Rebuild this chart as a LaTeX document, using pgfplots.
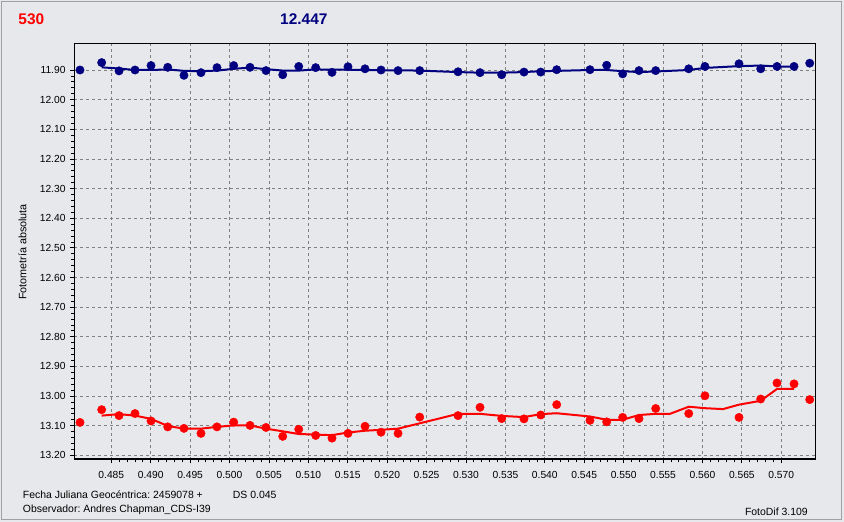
\documentclass[border=0pt]{standalone}
\usepackage{fontspec}
\setmainfont{Liberation Sans}
\usepackage{pgfplots}
\pgfplotsset{compat=1.18}
\frenchspacing

\definecolor{bgc}{RGB}{231,232,235}
\definecolor{navyc}{RGB}{0,0,128}
\definecolor{gridc}{RGB}{128,128,128}
\definecolor{framec}{RGB}{160,160,160}

% comparison star (navy) and variable (red), Julian date offset vs magnitude
\pgfplotstableread{
x        y
0.48103  11.900
0.48378  11.875
0.48598  11.903
0.48801  11.900
0.49004  11.885
0.49216  11.891
0.49422  11.918
0.49638  11.909
0.49841  11.892
0.50053  11.885
0.50260  11.891
0.50463  11.902
0.50675  11.916
0.50878  11.888
0.51093  11.892
0.51300  11.908
0.51503  11.889
0.51719  11.896
0.51922  11.900
0.52138  11.902
0.52413  11.902
0.52899  11.906
0.53178  11.909
0.53453  11.916
0.53736  11.907
0.53948  11.907
0.54151  11.899
0.54573  11.899
0.54785  11.884
0.54988  11.913
0.55195  11.902
0.55407  11.902
0.55826  11.896
0.56032  11.888
0.56464  11.879
0.56739  11.896
0.56946  11.888
0.57162  11.888
0.57361  11.877
}\comppts

\pgfplotstableread{
x        y
0.48378  11.891
0.48598  11.895
0.48801  11.900
0.49004  11.900
0.49216  11.898
0.49422  11.903
0.49638  11.904
0.49841  11.902
0.50053  11.896
0.50260  11.892
0.50463  11.897
0.50675  11.902
0.50878  11.902
0.51093  11.898
0.51300  11.899
0.51503  11.899
0.51719  11.900
0.51922  11.901
0.52138  11.901
0.52413  11.902
0.52899  11.907
0.53178  11.909
0.53453  11.909
0.53736  11.907
0.53948  11.904
0.54151  11.903
0.54573  11.900
0.54785  11.900
0.54988  11.904
0.55195  11.907
0.55407  11.905
0.55826  11.900
0.56032  11.893
0.56464  11.887
0.56739  11.885
0.56946  11.888
0.57162  11.889
}\compline

\pgfplotstableread{
x        y
0.48103  13.089
0.48378  13.046
0.48598  13.066
0.48801  13.059
0.49004  13.084
0.49216  13.104
0.49422  13.109
0.49638  13.126
0.49841  13.104
0.50053  13.088
0.50260  13.099
0.50463  13.106
0.50675  13.136
0.50878  13.112
0.51093  13.133
0.51300  13.142
0.51503  13.126
0.51719  13.102
0.51922  13.122
0.52138  13.126
0.52413  13.071
0.52899  13.066
0.53178  13.038
0.53453  13.076
0.53736  13.077
0.53948  13.064
0.54151  13.029
0.54573  13.082
0.54785  13.087
0.54988  13.072
0.55195  13.076
0.55407  13.042
0.55826  13.059
0.56032  12.999
0.56464  13.072
0.56739  13.010
0.56946  12.956
0.57162  12.959
0.57361  13.012
}\varpts

\pgfplotstableread{
x        y
0.48378  13.066
0.48598  13.061
0.48801  13.066
0.49004  13.077
0.49216  13.101
0.49422  13.110
0.49638  13.110
0.49841  13.104
0.50053  13.099
0.50260  13.099
0.50463  13.110
0.50675  13.119
0.50878  13.128
0.51093  13.130
0.51300  13.132
0.51503  13.123
0.51719  13.117
0.51922  13.114
0.52138  13.110
0.52413  13.092
0.52899  13.060
0.53178  13.060
0.53453  13.067
0.53736  13.071
0.53948  13.061
0.54151  13.058
0.54573  13.069
0.54785  13.080
0.54988  13.080
0.55195  13.064
0.55407  13.060
0.55588  13.060
0.55826  13.036
0.56032  13.041
0.56261  13.044
0.56464  13.029
0.56739  13.016
0.56946  12.976
0.57162  12.976
}\varline

\begin{document}
\begin{tikzpicture}[x=1bp,y=1bp]
\useasboundingbox (0,0) rectangle (844,522);
\fill[bgc] (0,0) rectangle (844,522);
\draw[framec, line width=1.5bp] (1.5,2.5) rectangle (841.5,520.5);

\begin{axis}[
    at={(74bp,62.7bp)}, anchor=south west,
    scale only axis,
    width=741.7bp, height=416bp,
    xmin=0.480268, xmax=0.57437,
    ymin=11.8099, ymax=13.2134,
    y dir=reverse,
    axis background/.style={fill=bgc},
    axis line style={black, line width=0.9bp},
    xtick={0.485,0.490,0.495,0.500,0.505,0.510,0.515,0.520,0.525,0.530,0.535,0.540,0.545,0.550,0.555,0.560,0.565,0.570},
    ytick={11.9,12.0,12.1,12.2,12.3,12.4,12.5,12.6,12.7,12.8,12.9,13.0,13.1,13.2},
    minor x tick num=4, minor y tick num=4,
    tick align=outside, xtick pos=bottom, ytick pos=left,
    major tick length=4bp, minor tick length=3bp,
    tick style={black, line width=0.8bp},
    scaled x ticks=false, scaled y ticks=false,
    grid=major,
    major grid style={gridc, line width=0.8bp, dash pattern=on 3bp off 3bp},
    ticklabel style={font=\fontsize{10.3}{12}\selectfont, text=black},
    x tick label style={yshift=-5bp, /pgf/number format/.cd, fixed, fixed zerofill, precision=3, assume math mode=true},
    y tick label style={xshift=-1bp, /pgf/number format/.cd, fixed, fixed zerofill, precision=2, assume math mode=true},
]
\addplot[navyc, line width=2bp, no marks] table {\compline};
\addplot[only marks, mark=*, mark size=4.2bp, mark options={fill=navyc, draw=navyc}] table {\comppts};
\addplot[red, line width=2bp, no marks] table {\varline};
\addplot[only marks, mark=*, mark size=4.2bp, mark options={fill=red, draw=red}] table {\varpts};
\draw[black, line width=2.5bp] (axis description cs:0,1) -- (axis description cs:0,0) -- (axis description cs:1,0);
\end{axis}

\node[anchor=base west, inner sep=0, text=red, font=\bfseries\fontsize{15.5}{18}\selectfont] at (18.3,497) {530};
\node[anchor=base west, inner sep=0, text=navyc, font=\bfseries\fontsize{15.5}{18}\selectfont] at (280,497) {12.447};

\node[rotate=90, inner sep=0, font=\fontsize{10.8}{12}\selectfont] at (22.5,270) {Fotometría absoluta};

\node[anchor=base west, inner sep=0, font=\fontsize{10.5}{12}\selectfont] at (22.7,23.7) {Fecha Juliana Geocéntrica: 2459078 +};
\node[anchor=base west, inner sep=0, font=\fontsize{10.5}{12}\selectfont] at (232.7,23.7) {DS 0.045};
\node[anchor=base west, inner sep=0, font=\fontsize{10.5}{12}\selectfont] at (22.7,9.3) {Observador: Andres Chapman\_CDS-I39};
\node[anchor=base east, inner sep=0, font=\fontsize{10.5}{12}\selectfont] at (808,6) {FotoDif 3.109};
\end{tikzpicture}
\end{document}
